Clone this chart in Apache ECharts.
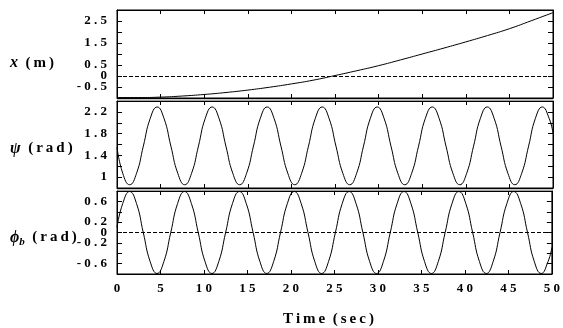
<!DOCTYPE html>
<html>
<head>
<meta charset="utf-8">
<script src="https://cdn.jsdelivr.net/npm/echarts@6/dist/echarts.min.js"></script>
<style>
  html, body { margin: 0; padding: 0; background: #fff; }
  #chart { width: 563px; height: 328px; }
</style>
</head>
<body>
<div id="chart"></div>
<script>
// cart position x (m), read every 2.5 s
const posTimes = [0, 2.5, 5, 7.5, 10, 12.5, 15, 17.5, 20, 22.5, 25, 27.5, 30, 32.5, 35, 37.5, 40, 42.5, 45, 47.5, 50];
const posValues = [-0.98, -0.98, -0.96, -0.91, -0.84, -0.75, -0.64, -0.51, -0.36, -0.19, 0.02, 0.24, 0.47, 0.73, 1.0, 1.27, 1.55, 1.84, 2.15, 2.51, 2.88];

// time samples for the two angle traces (sec)
const times = [0, 0.66, 1.45, 2.24, 3.02, 3.81, 4.60, 5.39, 6.18, 6.97, 7.76, 8.55, 9.34, 10.12, 10.91, 11.70,
  12.49, 13.28, 14.07, 14.86, 15.65, 16.43, 17.22, 18.01, 18.80, 19.59, 20.38, 21.17, 21.96, 22.74, 23.53, 24.32,
  25.11, 25.90, 26.69, 27.48, 28.27, 29.05, 29.84, 30.63, 31.42, 32.21, 33.00, 33.79, 34.58, 35.36, 36.15, 36.94,
  37.73, 38.52, 39.31, 40.10, 40.89, 41.67, 42.46, 43.25, 44.04, 44.83, 45.62, 46.41, 47.20, 47.98, 48.77, 49.56, 50];

// psi (rad)
const psiValues = [1.55,
  1.07, 0.86, 1.07, 1.57, 2.08, 2.29, 2.08, 1.57,
  1.07, 0.86, 1.07, 1.57, 2.08, 2.29, 2.08, 1.57,
  1.07, 0.86, 1.07, 1.57, 2.08, 2.29, 2.08, 1.57,
  1.07, 0.86, 1.07, 1.57, 2.08, 2.29, 2.08, 1.57,
  1.07, 0.86, 1.07, 1.57, 2.08, 2.29, 2.08, 1.57,
  1.07, 0.86, 1.07, 1.57, 2.08, 2.29, 2.08, 1.57,
  1.07, 0.86, 1.07, 1.57, 2.08, 2.29, 2.08, 1.57,
  1.07, 0.86, 1.07, 1.57, 2.08, 2.29, 2.08,
  1.81];

// phi_b (rad)
const phiValues = [0.10,
  0.56, 0.79, 0.56, 0, -0.56, -0.79, -0.56, 0,
  0.56, 0.79, 0.56, 0, -0.56, -0.79, -0.56, 0,
  0.56, 0.79, 0.56, 0, -0.56, -0.79, -0.56, 0,
  0.56, 0.79, 0.56, 0, -0.56, -0.79, -0.56, 0,
  0.56, 0.79, 0.56, 0, -0.56, -0.79, -0.56, 0,
  0.56, 0.79, 0.56, 0, -0.56, -0.79, -0.56, 0,
  0.56, 0.79, 0.56, 0, -0.56, -0.79, -0.56, 0,
  0.56, 0.79, 0.56, 0, -0.56, -0.79, -0.56,
  -0.29];

// tick labels that are printed on each y axis
const posLabels = [-0.5, 0, 0.5, 1.5, 2.5];
const psiLabels = [1, 1.4, 1.8, 2.2];
const phiLabels = [-0.6, -0.2, 0, 0.2, 0.6];

const serif = "'Liberation Serif', 'DejaVu Serif', serif";
const spaced = s => s.split('').join(' ');

const grids = [
  { left: 117, right: 10, top: 10, height: 88 },
  { left: 117, right: 10, top: 101, height: 87 },
  { left: 117, right: 10, top: 191, height: 88 },
];

function xAxes(i) {
  const base = {
    type: 'value', gridIndex: i, min: 0, max: 50, interval: 5,
    axisLine: { onZero: false, lineStyle: { color: '#000', width: 1 } },
    axisTick: { inside: true, length: 4, lineStyle: { color: '#000' } },
    splitLine: { show: false },
  };
  return [
    Object.assign({}, base, {
      position: 'bottom',
      axisLabel: {
        show: i === 2, margin: 8, color: '#000', fontFamily: serif, fontWeight: 'bold', fontSize: 13,
        formatter: v => spaced(String(v)),
      },
      name: i === 2 ? 'T\u2009i\u2009m\u2009e\u2002(\u2009s\u2009e\u2009c\u2009)' : '',
      nameLocation: 'middle', nameGap: 38, nameMoveOverlap: false,
      nameTextStyle: { color: '#000', fontFamily: serif, fontWeight: 'bold', fontSize: 15, padding: [0, 12, 0, 0] },
    }),
    Object.assign({}, base, { position: 'top', axisLabel: { show: false } }),
  ];
}

function yAxes(i, min, max, interval, labels, name, drop) {
  const base = {
    type: 'value', gridIndex: i, min: min, max: max, interval: interval,
    axisLine: { onZero: false, lineStyle: { color: '#000', width: 1 } },
    axisTick: { inside: true, length: 5, lineStyle: { color: '#000' } },
    splitLine: { show: false },
  };
  return [
    Object.assign({}, base, {
      position: 'left',
      axisLabel: {
        margin: 10, color: '#000', fontFamily: serif, fontWeight: 'bold', fontSize: 13,
        padding: [7, 0, 0, 0],
        formatter: v => labels.some(l => Math.abs(l - v) < 1e-6) ? spaced(String(+v.toFixed(2))) : '',
      },
      name: name, nameLocation: 'middle', nameRotate: 0, nameGap: 107, nameMoveOverlap: false,
      nameTextStyle: {
        align: 'left', color: '#000', fontFamily: serif, fontSize: 15,
        padding: [drop, 0, 0, 0], rich: nameRich,
      },
    }),
    Object.assign({}, base, { position: 'right', axisLabel: { show: false } }),
  ];
}

const nameRich = {
  i: { fontFamily: serif, fontStyle: 'italic', fontWeight: 'bold', fontSize: 16, color: '#000' },
  s: { fontFamily: serif, fontStyle: 'italic', fontWeight: 'bold', fontSize: 11, color: '#000', padding: [10, 0, 0, 0] },
  r: { fontFamily: serif, fontWeight: 'bold', fontSize: 15, color: '#000' },
};

const zeroLine = {
  silent: true, symbol: 'none', animation: false,
  label: { show: false },
  lineStyle: { color: '#000', type: [4, 2], width: 1 },
  data: [{ yAxis: 0 }],
};

const option = {
  animation: false,
  backgroundColor: '#fff',
  grid: grids.map(g => Object.assign({ show: true, borderColor: '#000', borderWidth: 1 }, g)),
  xAxis: [].concat(xAxes(0), xAxes(1), xAxes(2)),
  yAxis: [].concat(
    yAxes(0, -1, 3, 0.5, posLabels, '{i|x}\u2002{r|(\u2009m\u2009)}', 18),
    yAxes(1, 0.8, 2.4, 0.2, psiLabels, '{i|ψ}\u2002{r|(\u2009r\u2009a\u2009d\u2009)}', 8),
    yAxes(2, -0.8, 0.8, 0.2, phiLabels, '{i|ϕ}{s|b}\u2002{r|(\u2009r\u2009a\u2009d\u2009)}', 10)
  ),
  graphic: [
    { type: 'rect', shape: { x: 117, y: 98.5, width: 436, height: 2 }, style: { fill: '#c8c8c8' }, silent: true },
    { type: 'rect', shape: { x: 117, y: 188.5, width: 436, height: 2 }, style: { fill: '#c8c8c8' }, silent: true },
  ],
  series: [
    {
      type: 'line', xAxisIndex: 0, yAxisIndex: 0, showSymbol: false, smooth: true,
      lineStyle: { color: '#000', width: 1 },
      data: posTimes.map((t, k) => [t, posValues[k]]),
      markLine: zeroLine,
    },
    {
      type: 'line', xAxisIndex: 2, yAxisIndex: 2, showSymbol: false, smooth: true,
      lineStyle: { color: '#000', width: 1 },
      data: times.map((t, k) => [t, psiValues[k]]),
    },
    {
      type: 'line', xAxisIndex: 4, yAxisIndex: 4, showSymbol: false, smooth: true,
      lineStyle: { color: '#000', width: 1 },
      data: times.map((t, k) => [t, phiValues[k]]),
      markLine: zeroLine,
    },
  ],
};

const chart = echarts.init(document.getElementById('chart'), null, { renderer: 'canvas' });
chart.setOption(option);
</script>
</body>
</html>
